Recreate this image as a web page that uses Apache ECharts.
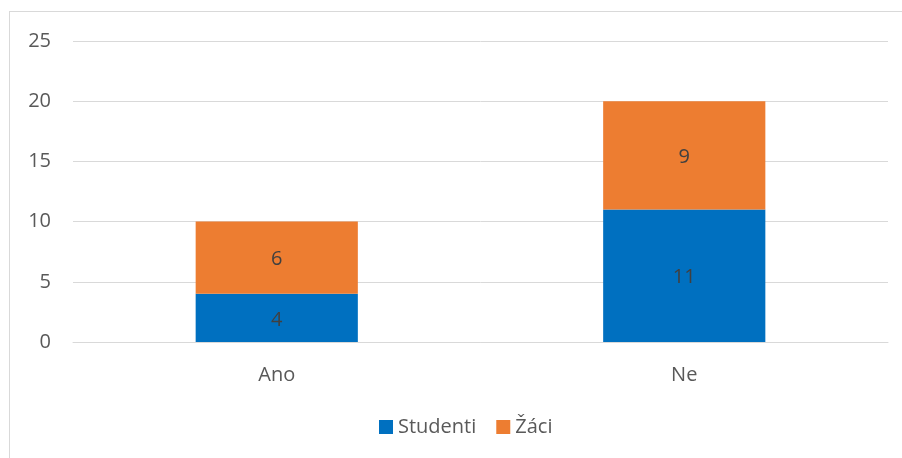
<!DOCTYPE html>
<html>
<head>
<meta charset="utf-8">
<script src="https://cdn.jsdelivr.net/npm/echarts@6/dist/echarts.min.js"></script>
<style>
  html, body { margin: 0; padding: 0; background: #fff; }
  .frame {
    position: absolute; left: 9px; top: 11px; width: 900px; height: 460px;
    border: 1px solid #d9d9d9; box-sizing: border-box;
  }
  #chart { position: absolute; left: 0; top: 0; width: 902px; height: 458px; }
</style>
</head>
<body>
<div class="frame"></div>
<div id="chart"></div>
<script>
const categories = ["Ano", "Ne"];
const studenti = [4, 11];
const zaci = [6, 9];
const yTicks = { min: 0, max: 25, interval: 5 };

const font = "'Open Sans', 'Liberation Sans', sans-serif";
const myChart = echarts.init(document.getElementById("chart"));

myChart.setOption({
  animation: false,
  grid: { left: 73, right: 14, top: 41, bottom: 116 },
  legend: {
    bottom: 16,
    left: 374,
    itemWidth: 14,
    itemHeight: 14,
    itemGap: 20,
    icon: "rect",
    textStyle: { color: "#595959", fontSize: 20, fontFamily: font },
    data: ["Studenti", "Žáci"],
  },
  xAxis: {
    type: "category",
    data: categories,
    axisLine: { lineStyle: { color: "#d9d9d9", width: 1 } },
    axisTick: { show: false },
    axisLabel: { color: "#595959", fontSize: 20, fontFamily: font, margin: 23 },
  },
  yAxis: {
    type: "value",
    min: yTicks.min,
    max: yTicks.max,
    interval: yTicks.interval,
    axisLine: { show: false },
    axisTick: { show: false },
    splitLine: { lineStyle: { color: "#d9d9d9", width: 1 } },
    axisLabel: { color: "#595959", fontSize: 20, fontFamily: font, margin: 22 },
  },
  series: [
    {
      name: "Studenti",
      type: "bar",
      stack: "total",
      barWidth: "39.8%",
      data: studenti,
      itemStyle: { color: "#0070c0" },
      label: { show: true, position: "inside", color: "#404040", fontSize: 20, fontFamily: font, offset: [0, 2] },
    },
    {
      name: "Žáci",
      type: "bar",
      stack: "total",
      data: zaci,
      itemStyle: { color: "#ed7d31" },
      label: { show: true, position: "inside", color: "#404040", fontSize: 20, fontFamily: font, offset: [0, 2] },
    },
  ],
});
</script>
</body>
</html>
